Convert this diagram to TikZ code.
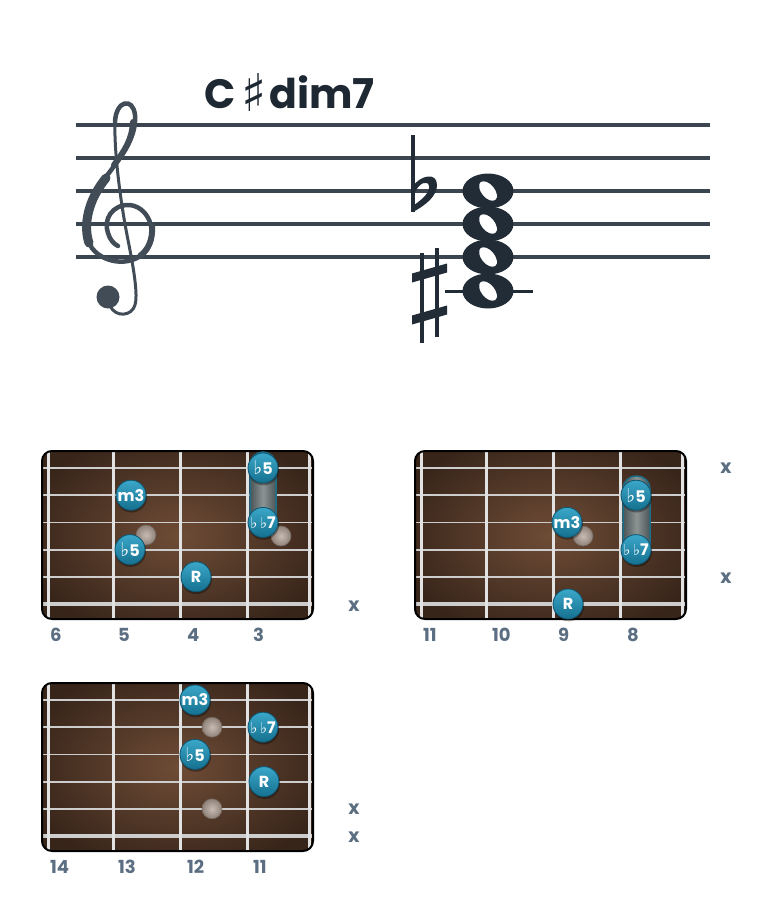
\documentclass[tikz,border=0pt]{standalone}
\usepackage{fontspec}
\newfontfamily\pop{Poppins}
\newfontfamily\dvs{DejaVu Sans}
\definecolor{staffc}{HTML}{3A4550}
\definecolor{clefc}{HTML}{414C57}
\definecolor{notec}{HTML}{222C37}
\definecolor{titlec}{HTML}{1E2833}
\definecolor{lblc}{HTML}{5B6E82}
\definecolor{boardin}{HTML}{6E4C36}
\definecolor{boardout}{HTML}{38251A}
\definecolor{fretc}{HTML}{E2E2E2}
\definecolor{strc}{HTML}{CDCDCD}
\definecolor{dotT}{HTML}{3BA7C9}
\definecolor{dotB}{HTML}{15708F}
\definecolor{dotE}{HTML}{0F5570}
\definecolor{ghostin}{HTML}{C7BCB4}
\definecolor{ghostout}{HTML}{8F8178}
\definecolor{barrem}{HTML}{8C9393}
\definecolor{barres}{HTML}{4A5557}
\tikzset{
  staffline/.style={line width=3.5pt, draw=staffc},
  fretline/.style={line width=3pt, draw=fretc},
  gstring/.style={line width=1.8pt, draw=strc},
  gstringb/.style={line width=3.6pt, draw=strc},
  fretlbl/.style={font=\pop\bfseries\fontsize{18}{18}\selectfont, text=lblc, anchor=base west, inner sep=0pt},
  mute/.style={font=\pop\bfseries\fontsize{19}{19}\selectfont, text=lblc, anchor=base, inner sep=0pt},
  dottxt/.style={font=\pop\bfseries\fontsize{16}{16}\selectfont, text=white, inner sep=0pt},
}
\newcommand\fl{{\dvs\fontsize{19}{19}\selectfont\char"266D}}
\newcommand\fls{{\dvs\fontsize{15}{15}\selectfont\char"266D}}
\newcommand\fdot[3]{%
  \fill[black, opacity=0.35] ($(#2)+(0.6,1.8)$) circle (15.5pt);
  \shade[top color=dotT, bottom color=dotB] (#2) circle (15pt);
  \draw[dotE, line width=0.8pt] (#2) circle (15pt);
  \node[dottxt] (#1) at (#2) {#3};}
\newcommand\gdot[2]{%
  \shade[inner color=ghostin, outer color=ghostout] (#2) circle (10pt);
  \draw[ghostout!80!black, line width=0.6pt] (#2) circle (10pt);
  \coordinate (#1) at (#2);}
\newcommand\fboard[2]{%
  \begin{scope}[shift={(#1,#2)}]
    \begin{scope}
      \clip[rounded corners=10pt] (42,451) rectangle (313,619);
      \shade[inner color=boardin, outer color=boardout] (20,430) rectangle (335,640);
      \foreach \sy in {468,495.2,522.4,549.6,576.8} \draw[gstring] (42,\sy) -- (313,\sy);
      \draw[gstringb] (42,604) -- (313,604);
      \foreach \fx in {48,113,180,247,309} \draw[fretline] (\fx,451) -- (\fx,619);
    \end{scope}
    \draw[black, line width=2pt, rounded corners=10pt] (42,451) rectangle (313,619);
  \end{scope}}
\usetikzlibrary{calc}
\begin{document}
\begin{tikzpicture}[x=1pt,y=-1pt]
\useasboundingbox (0,0) rectangle (780,916);
\fill[white] (0,0) rectangle (780,916);

% title
\node[anchor=base west, inner sep=0pt, text=titlec] (title) at (204,108)
  {\pop\bfseries\fontsize{41}{41}\selectfont C\hspace{6pt}\raisebox{-3pt}{\dvs\mdseries\fontsize{52}{52}\selectfont\char"266F}\hspace{3pt}dim7};

% staff
\foreach \y in {125,158,191,224,257} \draw[staffline] (76,\y) -- (710,\y);

% treble clef
\draw[clefc, line width=4.5pt, line cap=round]
  (115,122) .. controls (116,100) and (133,97) .. (135,115)
  .. controls (137,140) and (118,160) .. (100,185)
  .. controls (85,205) and (82,230) .. (90,245)
  .. controls (100,263) and (130,268) .. (145,252)
  .. controls (158,238) and (152,208) .. (130,205)
  .. controls (112,204) and (103,220) .. (108,233)
  .. controls (110,240) and (114,244) .. (118,246);
\draw[clefc, line width=9pt, line cap=round]
  (106,178) .. controls (88,200) and (83,225) .. (89,243);
\draw[clefc, line width=6pt, line cap=round]
  (152,226) .. controls (153,240) and (148,250) .. (140,256);
\draw[clefc, line width=6pt, line cap=round]
  (133,122) .. controls (132,140) and (125,150) .. (114,165);
\draw[clefc, line width=3pt, line cap=round]
  (115,122) .. controls (114,150) and (120,200) .. (128,240)
  .. controls (134,270) and (138,295) .. (135,305)
  .. controls (132,316) and (116,318) .. (110,306);
\fill[clefc] (108,297) circle (11.5pt);

% flat
\fill[notec] (411,135) rectangle (415,212);
\fill[notec] (413,186) .. controls (421,175) and (437,172) .. (437,185)
  .. controls (437,196) and (426,205) .. (413,212)
  -- (414,205) .. controls (423,199) and (430,192) .. (429,186)
  .. controls (428,180) and (420,182) .. (415,192) -- cycle;

% sharp
\draw[notec, line width=3.5pt] (422,253) -- (422,343);
\draw[notec, line width=3.5pt] (437,248) -- (437,337);
\fill[notec] (412,273.5) -- (447,263.5) -- (447,272.5) -- (412,282.5) -- cycle;
\fill[notec] (412,315.5) -- (447,305.5) -- (447,314.5) -- (412,324.5) -- cycle;

% ledger line
\draw[notec, line width=3pt] (445,291) -- (533,291);

% whole notes
\foreach \ny in {191,224,257,291} \fill[notec] (488,\ny) ellipse [x radius=25.5pt, y radius=17.5pt];
\foreach \ny in {191,224,257,291} \fill[white, rotate around={-50:(488,\ny)}] (488,\ny) ellipse [x radius=11.5pt, y radius=6.5pt];

% ---------- board 1 ----------
\fboard{0}{0}
\shade[left color=barres, right color=barres, middle color=barrem, rounded corners=13pt] (250,452) rectangle (276,537);
\draw[dotE!70!dotT, line width=1.5pt, rounded corners=13pt] (250,452) rectangle (276,537);
\gdot{a1}{146,535}
\gdot{a2}{281,536}
\fdot{b1a}{263,468}{\fl 5}
\fdot{b1b}{131,495.2}{m3}
\fdot{b1c}{263,522.4}{\fls\,\fls 7}
\fdot{b1d}{130,549.6}{\fl 5}
\fdot{b1e}{196,576.8}{R}
\node[fretlbl] (l1a) at (50,641) {6};
\node[fretlbl] (l1b) at (118,641) {5};
\node[fretlbl] (l1c) at (187,641) {4};
\node[fretlbl] (l1d) at (253,641) {3};
\node[mute] (m1a) at (354,611) {x};

% ---------- board 2 ----------
\fboard{373}{0}
\shade[left color=barres, right color=barres, middle color=barrem, rounded corners=13pt] (623,476) rectangle (650,562);
\draw[dotE!70!dotT, line width=1.5pt, rounded corners=13pt] (623,476) rectangle (650,562);
\gdot{a3}{583,536}
\fdot{b2a}{636,495.2}{\fl 5}
\fdot{b2b}{567,522.4}{m3}
\fdot{b2c}{636,549.6}{\fls\,\fls 7}
\fdot{b2d}{568,604}{R}
\node[fretlbl] (l2a) at (423,641) {11};
\node[fretlbl] (l2b) at (492,641) {10};
\node[fretlbl] (l2c) at (558,641) {9};
\node[fretlbl] (l2d) at (627,641) {8};
\node[mute] (m2a) at (726,473) {x};
\node[mute] (m2b) at (726,583) {x};

% ---------- board 3 ----------
\fboard{0}{232}
\gdot{a4}{212,727.2}
\gdot{a5}{212,808.8}
\fdot{b3a}{195,700}{m3}
\fdot{b3b}{263,727.2}{\fls\,\fls 7}
\fdot{b3c}{195,754.4}{\fl 5}
\fdot{b3d}{264,781.6}{R}
\node[fretlbl] (l3a) at (50,873) {14};
\node[fretlbl] (l3b) at (118,873) {13};
\node[fretlbl] (l3c) at (187,873) {12};
\node[fretlbl] (l3d) at (253,873) {11};
\node[mute] (m3a) at (354,814) {x};
\node[mute] (m3b) at (354,842) {x};
\end{tikzpicture}
\end{document}
